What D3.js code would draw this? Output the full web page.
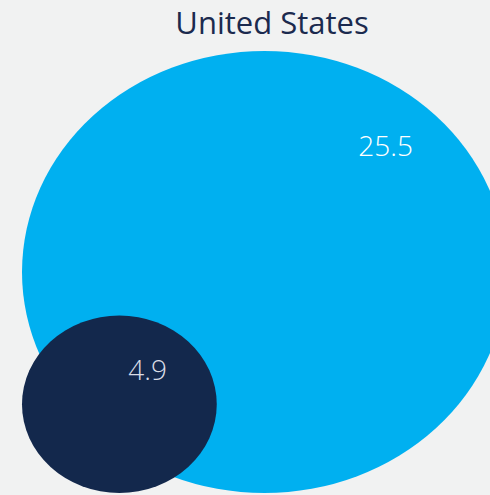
<!DOCTYPE html>
<html>
<head>
<meta charset="utf-8">
<script src="https://cdn.jsdelivr.net/npm/d3@7"></script>
<style>
  html, body { margin: 0; padding: 0; background: #f1f2f2; }
  svg { display: block; }
</style>
</head>
<body>
<div id="chart"></div>
<script>

var title = "United States";
var categories = ["Total", "Subset"];
var values = [25.5, 4.9];
var valueLabels = ["25.5", "4.9"];
var colors = ["#00b0f0", "#13284c"];
var labelColors = ["#ffffff", "#d9dde6"];

var width = 490, height = 495;
var left = 22, bottom = 493;
var stretch = 1.097;  // ellipses are a bit wider than tall

var svg = d3.select("#chart").append("svg")
    .attr("width", width)
    .attr("height", height);

svg.append("rect")
    .attr("width", width)
    .attr("height", height)
    .attr("fill", "#f1f2f2");

var r = d3.scalePow()
    .exponent(0.553)
    .domain([0, d3.max(values)])
    .range([0, 221]);

// label offset as a fraction of the radii
var labelOffset = [[0.5, -0.57], [0.29, -0.38]];

var data = categories.map(function(c, i) {
    var ry = r(values[i]);
    var rx = ry * stretch;
    return {
        name: c,
        value: values[i],
        label: valueLabels[i],
        rx: rx,
        ry: ry,
        cx: left + rx,
        cy: bottom - ry,
        color: colors[i],
        labelColor: labelColors[i],
        off: labelOffset[i]
    };
});

svg.selectAll("ellipse.bubble")
    .data(data)
    .enter().append("ellipse")
    .attr("class", "bubble")
    .attr("cx", function(d) { return d.cx; })
    .attr("cy", function(d) { return d.cy; })
    .attr("rx", function(d) { return d.rx; })
    .attr("ry", function(d) { return d.ry; })
    .attr("fill", function(d) { return d.color; });

svg.selectAll("text.value")
    .data(data)
    .enter().append("text")
    .attr("class", "value")
    .attr("x", function(d) { return d.cx + d.off[0] * d.rx; })
    .attr("y", function(d) { return d.cy + d.off[1] * d.ry; })
    .attr("dy", "0.35em")
    .attr("text-anchor", "middle")
    .style("font-family", "'Open Sans', sans-serif")
    .style("font-weight", 300)
    .style("font-size", "28px")
    .attr("fill", function(d) { return d.labelColor; })
    .text(function(d) { return d.label; });

svg.append("text")
    .attr("x", 272)
    .attr("y", 34)
    .attr("text-anchor", "middle")
    .style("font-family", "'Open Sans', sans-serif")
    .style("font-size", "31px")
    .attr("fill", "#1b2a4e")
    .text(title);

</script>
</body>
</html>
